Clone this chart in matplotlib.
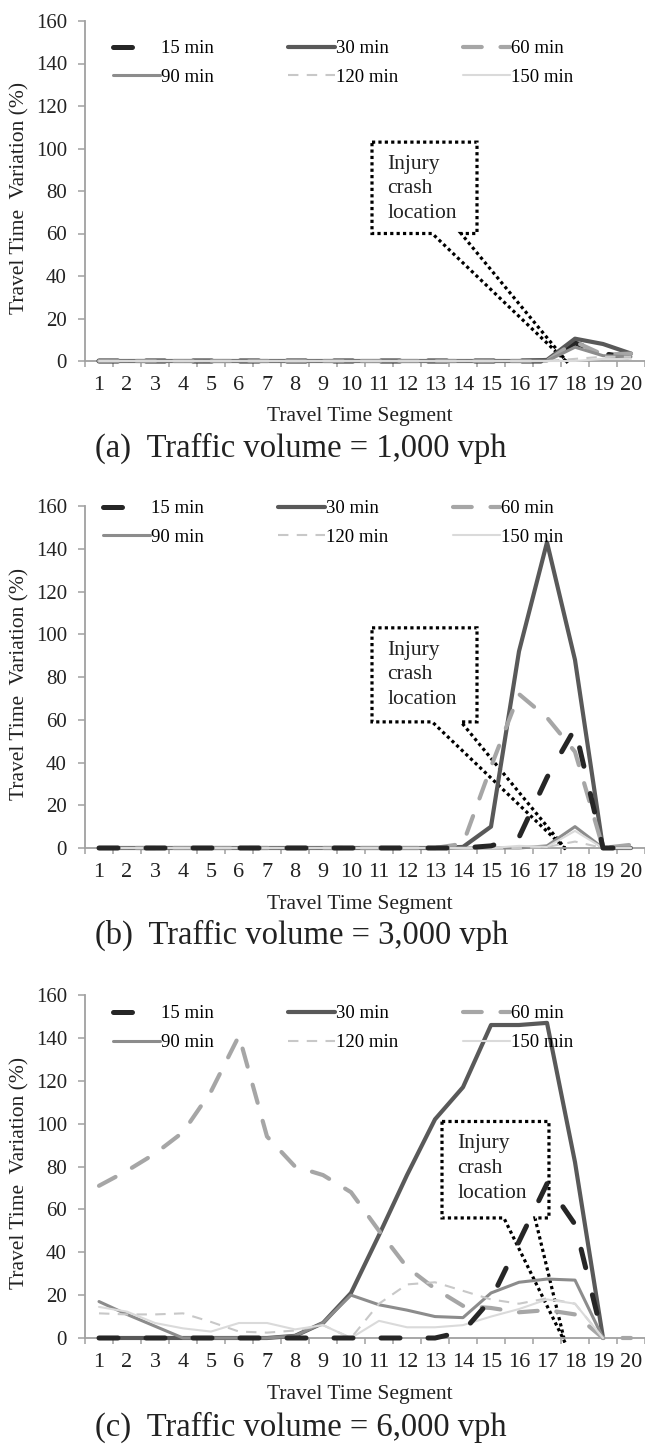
import numpy as np
import matplotlib
matplotlib.use('Agg')
import matplotlib.pyplot as plt
from matplotlib.patches import Polygon
from matplotlib.legend import Legend

plt.rcParams['font.family'] = ['Liberation Serif', 'DejaVu Serif']

segments = list(range(1, 21))
series_names = ['15 min', '30 min', '60 min', '90 min', '120 min', '150 min']
captions = ['(a)  Traffic volume = 1,000 vph',
            '(b)  Traffic volume = 3,000 vph',
            '(c)  Traffic volume = 6,000 vph']

nan = np.nan

# (a) 1,000 vph
a15 = [0, 0, 0, 0, 0, 0, 0, 0, 0, 0, 0, 0, 0, 0, 0, 0, 0, 8.5, 3.5, 1.5]
a30 = [0, 0, 0, 0, 0, 0, 0, 0, 0, 0, 0, 0, 0, 0, 0, 0, 0.5, 10.5, 8, 3.5]
a60 = [0, 0, 0, 0, 0, 0, 0, 0, 0, 0, 0, 0, 0, 0, 0, 0, 0, 9, 3, 3.5]
a90 = [0, 0, 0, 0, 0, 0, 0, 0, 0, 0, 0, 0, 0, 0, 0, 0, 0, 6.5, 2.5, 2]
a120 = [0, 0, 0, 0, 0, 0, 0, 0, 0, 0, 0, 0, 0, 0, 0, 0, 0, 1, 2, 2]
a150 = [0, 0, 0, 0, 0, 0, 0, 0, 0, 0, 0, 0, 0, 0, 0, 0, 0, 0, 1, 1]

# (b) 3,000 vph
b15 = [0, 0, 0, 0, 0, 0, 0, 0, 0, 0, 0, 0, 0, 0, 1, 5, 33, 56, 0, 0]
b30 = [0, 0, 0, 0, 0, 0, 0, 0, 0, 0, 0, 0, 0, 0.5, 10, 92, 143, 88, 0, 0]
b60 = [0, 0, 0, 0, 0, 0, 0, 0, 0, 0, 0, 0, 0, 2, 38, 72, 61, 45, 0, 1.5]
b90 = [0, 0, 0, 0, 0, 0, 0, 0, 0, 0, 0, 0, 0, 0, 0, 0, 1, 10, 0, 0]
b120 = [0, 0, 0, 0, 0, 0, 0, 0, 0, 0, 0, 0, 0, 0, 0, 0, 0.5, 3, 0, 0]
b150 = [0, 0, 0, 0, 0, 0, 0, 0, 0, 0, 0, 0, 0, 0, 0, 1, 0.5, 8, 0, 0]

# (c) 6,000 vph (segment 20 only shown for 60 min)
c15 = [0, 0, 0, 0, 0, 0, 0, 0, 0, 0, 0, 0, 0, 3, 18, 45, 72, 53, 0, nan]
c30 = [0, 0, 0, 0, 0, 0, 0, 1, 7, 21, 48, 76, 102, 117, 146, 146, 147, 82, 0, nan]
c60 = [71, 78, 86, 96, 115, 141, 94, 80, 76, 68, 50, 33, 23, 15, 14, 12, 13, 11, 0, 0]
c90 = [17, 11, 5.5, 0, 0, 0, 0, 1, 7, 20, 15.5, 13, 10, 9.5, 21, 26, 27.5, 27, 0, nan]
c120 = [11.5, 11, 11, 11.5, 7.5, 3, 2.5, 3.5, 6, 0, 16, 25, 26, 22, 18, 16, 18.5, 16, 0, nan]
c150 = [14.5, 12.3, 7, 4.5, 3, 7, 7, 4, 6, 0, 8, 5, 5, 6, 10, 13.5, 18, 16, 0, nan]

panels = [[a15, a30, a60, a90, a120, a150],
          [b15, b30, b60, b90, b120, b150],
          [c15, c30, c60, c90, c120, c150]]

styles = [
    dict(color='#262626', lw=3.6, ls=(0, (3.8, 5.6)), cap='round'),
    dict(color='#595959', lw=3.0, ls='-', cap='round'),
    dict(color='#A6A6A6', lw=3.0, ls=(0, (4.5, 4.5)), cap='round'),
    dict(color='#8C8C8C', lw=2.2, ls='-', cap='round'),
    dict(color='#C8C8C8', lw=1.5, ls=(0, (5, 4)), cap='butt'),
    dict(color='#DADADA', lw=1.5, ls='-', cap='round'),
]

# callout geometry per panel: box x0, x1, y0, y1, wedge left/right, tip x, tip y, text x, text y
callouts = [
    (10.75, 14.5, 60, 103, 12.9, 13.93, 17.75, -1, 11.3, 97),
    (10.75, 14.5, 59, 103, 12.9, 13.93, 17.7, -1, 11.3, 97),
    (13.25, 17.07, 56, 101, 15.46, 16.57, 17.64, -2, 13.8, 95),
]

# layout in pixels (figure 645 x 1444)
W, H = 645.0, 1444.0
ax_px = [(21, 361), (506, 848), (995, 1338)]
leg_cols = [(113, 288, 463), (103, 278, 453), (113, 288, 463)]
leg_top = [0.944, 1.0175, 0.970]
caption_y = [448, 935, 1427]

grey = '#A0A0A0'
txt = '#222222'

fig = plt.figure(figsize=(6.45, 14.44), dpi=100)

for i, data in enumerate(panels):
    top, bot = ax_px[i]
    ax = fig.add_axes([85 / W, 1 - bot / H, 560 / W, (bot - top) / H])
    lines = []
    for k, (vals, st) in enumerate(zip(data, styles)):
        z = 3 + k
        if k == 0 and i > 0:
            z = 10
        ln, = ax.plot(segments, vals, color=st['color'], lw=st['lw'],
                      linestyle=st['ls'], label=series_names[k], zorder=z,
                      solid_capstyle='round', dash_capstyle=st['cap'],
                      clip_on=False)
        lines.append(ln)

    ax.set_xlim(0.5, 20.5)
    ax.set_ylim(0, 160)
    ax.set_yticks(np.arange(0, 161, 20))
    ax.set_xticks(segments)
    ax.set_xticks(np.arange(0.5, 21, 1), minor=True)
    for s in ['top', 'right']:
        ax.spines[s].set_visible(False)
    for s in ['left', 'bottom']:
        ax.spines[s].set_color(grey)
        ax.spines[s].set_linewidth(1.3)
    ax.tick_params(axis='y', direction='out', length=5, width=1.1, color=grey,
                   labelsize=15, labelcolor=txt, pad=8)
    ax.tick_params(axis='x', which='major', length=0, labelsize=16,
                   labelcolor=txt, pad=11)
    ax.tick_params(axis='x', which='minor', direction='out', length=4.5,
                   width=1.1, color=grey)

    ax.set_ylabel('Travel Time  Variation (%)', fontsize=15.5, color=txt)
    ax.yaxis.set_label_coords(-0.116, 0.48)
    ax.yaxis.label.set_va('center')
    ax.set_xlabel('Travel Time Segment', fontsize=15.5, color=txt)
    ax.xaxis.set_label_coords(0.49, -56 / (bot - top))
    ax.xaxis.label.set_va('center')

    x0, x1, y0, y1, wl, wr, tx, ty, lx, ly = callouts[i]
    shape = Polygon([(x0, y1), (x1, y1), (x1, y0), (wr, y0), (tx, ty),
                     (wl, y0), (x0, y0)], closed=True, fill=False,
                    edgecolor='black', lw=2.3, linestyle=(0, (1, 1)),
                    zorder=2, clip_on=False)
    ax.add_patch(shape)
    ax.text(lx, ly, 'Injury\ncrash\nlocation', fontsize=15.5, color=txt,
            ha='left', va='top', linespacing=1.4)

    # legend: one two-row column per group so columns sit on an even grid
    pairs = [(0, 3), (1, 4), (2, 5)]
    for c, (p, q) in enumerate(pairs):
        leg = Legend(ax, [lines[p], lines[q]], [series_names[p], series_names[q]],
                     loc='upper left',
                     bbox_to_anchor=((leg_cols[i][c] - 85) / 560, leg_top[i]),
                     frameon=False, fontsize=13.5, handlelength=2.5,
                     handletextpad=0.05, labelspacing=0.62,
                     borderpad=0, borderaxespad=0)
        ax.add_artist(leg)

    fig.text(95 / W, 1 - caption_y[i] / H, captions[i], fontsize=23.5,
             color=txt, ha='left', va='center')

fig.savefig('out.png', dpi=100)
